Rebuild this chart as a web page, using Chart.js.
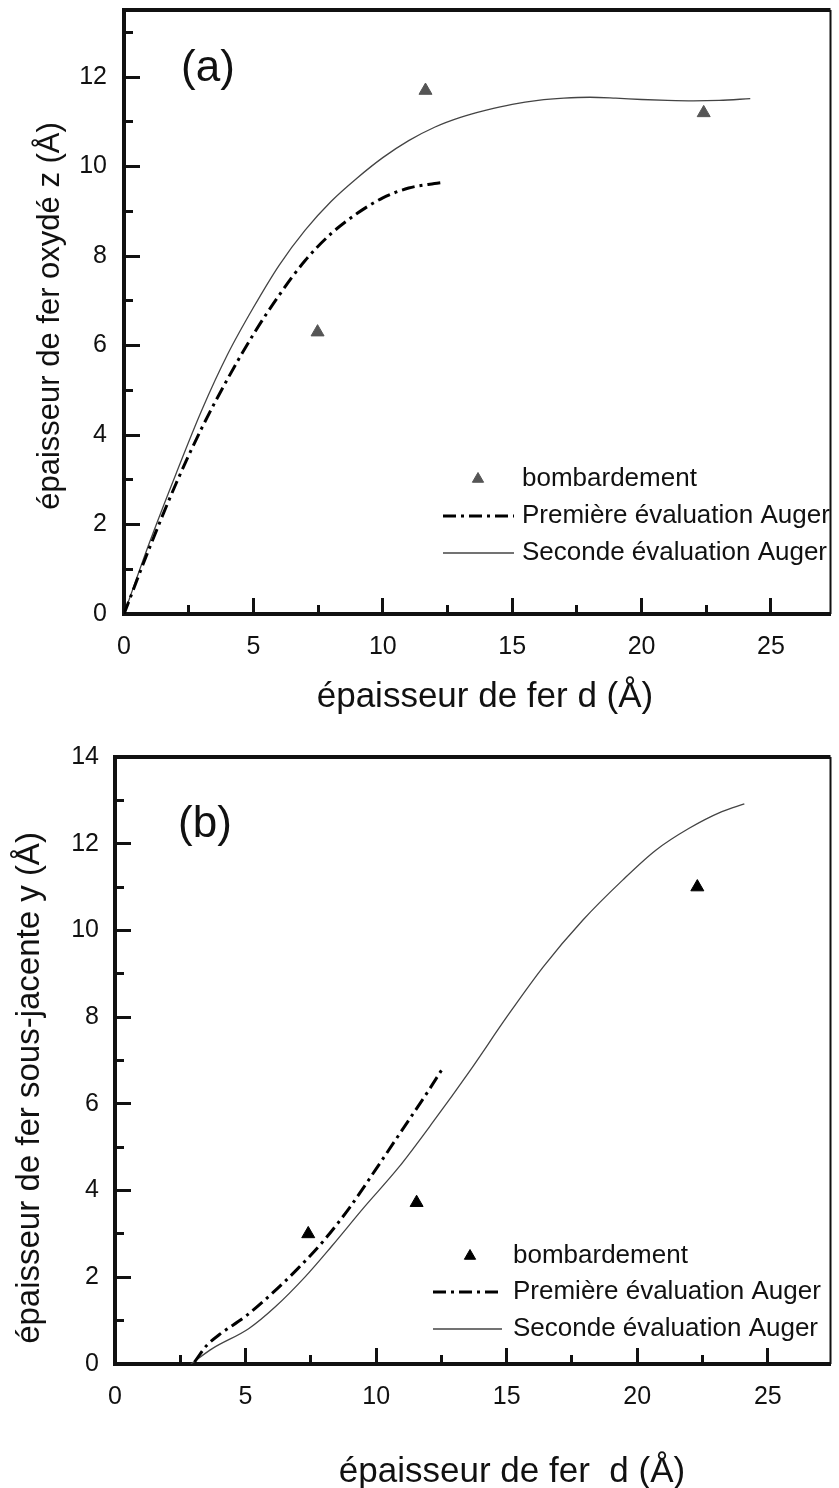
<!DOCTYPE html>
<html>
<head>
<meta charset="utf-8">
<script src="https://cdn.jsdelivr.net/npm/chart.js@4.4.1/dist/chart.umd.min.js"></script>
<style>
  html, body { margin: 0; padding: 0; background: #fff; }
  canvas { position: absolute; left: 0; }
  #chartA { top: 0; }
  #chartB { top: 720px; }
</style>
</head>
<body>
<canvas id="chartA" width="839" height="720"></canvas>
<canvas id="chartB" width="839" height="768"></canvas>
<script>
// ---- data ----
// (a) épaisseur de fer oxydé z vs d
const dA_bomb = [7.48, 11.65, 22.4];
const zA_bomb = [6.3, 11.7, 11.2];
const dA_prem = [0, 1, 2, 3, 4, 5, 6, 7, 8, 9, 10, 11, 12, 12.4];
const zA_prem = [0, 1.5, 2.9, 4.15, 5.25, 6.25, 7.13, 7.9, 8.5, 8.95, 9.3, 9.52, 9.62, 9.65];
const dA_sec = [0, 1, 2, 3, 4, 5, 6, 7, 8, 9, 10, 11, 12, 13, 14, 15, 16, 17, 18, 19, 20, 21, 22, 23, 24.2];
const zA_sec = [0, 1.62, 3.12, 4.55, 5.8, 6.85, 7.8, 8.58, 9.22, 9.74, 10.2, 10.58, 10.88, 11.1, 11.26, 11.39, 11.48, 11.53, 11.55, 11.53, 11.5, 11.48, 11.47, 11.48, 11.52];

// (b) épaisseur de fer sous-jacente y vs d
const dB_bomb = [7.4, 11.55, 22.3];
const yB_bomb = [3.0, 3.72, 11.0];
const dB_prem = [3.05, 3.5, 4, 5, 6, 7, 8, 9, 10, 11, 12, 12.55];
const yB_prem = [0.05, 0.42, 0.68, 1.1, 1.62, 2.2, 2.85, 3.62, 4.5, 5.4, 6.3, 6.82];
const dB_sec = [2.9, 3.74, 5.13, 6.14, 7.28, 8.29, 9.56, 10.83, 12.2, 13.61, 15.01, 16.4, 17.92, 19.44, 20.71, 21.97, 23.24, 24.1];
const yB_sec = [0, 0.36, 0.82, 1.32, 2.01, 2.71, 3.63, 4.51, 5.6, 6.78, 8.01, 9.16, 10.24, 11.16, 11.85, 12.35, 12.74, 12.92];

// ticks
const xMajor = [0, 5, 10, 15, 20, 25];
const xMinor = [2.5, 7.5, 12.5, 17.5, 22.5];
const yMajorA = [0, 2, 4, 6, 8, 10, 12];
const yMinorA = [1, 3, 5, 7, 9, 11, 13];
const yMajorB = [0, 2, 4, 6, 8, 10, 12, 14];
const yMinorB = [1, 3, 5, 7, 9, 11, 13];

const legendLabels = ['bombardement', 'Première évaluation Auger', 'Seconde évaluation Auger'];

const FONT = '"Liberation Sans", Arial, Helvetica, sans-serif';
const INK = '#111';

function pts(xs, ys) { return xs.map((x, i) => ({ x: x, y: ys[i] })); }

function setTicks(vals) {
  return s => { s.ticks = vals.map(v => ({ value: v })); };
}

// fixed box sizes so the plot area lands where the figure has it
function fixX(h) {
  return s => { s.height = h; s.paddingLeft = 0; s.paddingRight = 0; };
}
function fixY(w) {
  return s => { s.width = w; s.paddingTop = 0; s.paddingBottom = 0; };
}

function buildScales(c) {
  const gridMajor = { drawOnChartArea: false, tickLength: -16, tickWidth: 3, tickColor: INK };
  const gridMinor = { drawOnChartArea: false, tickLength: -9, tickWidth: 3, tickColor: INK };
  const tickFont = { family: FONT, size: 25 };
  return {
    xm: {
      type: 'linear', axis: 'x', position: 'bottom', weight: 0, min: 0, max: c.xMax,
      afterBuildTicks: setTicks(xMinor), afterFit: fixX(0),
      ticks: { display: false }, border: { display: false }, grid: gridMinor
    },
    x: {
      type: 'linear', position: 'bottom', weight: 1, min: 0, max: c.xMax,
      afterBuildTicks: setTicks(xMajor), afterFit: fixX(c.xHeight),
      ticks: { color: INK, font: tickFont, padding: c.xPad, autoSkip: false, maxRotation: 0 },
      border: { display: true, width: 4, color: INK }, grid: gridMajor
    },
    ym: {
      type: 'linear', axis: 'y', position: 'left', weight: 0, min: 0, max: c.yMax,
      afterBuildTicks: setTicks(c.yMinor), afterFit: fixY(0),
      ticks: { display: false }, border: { display: false }, grid: gridMinor
    },
    y: {
      type: 'linear', position: 'left', weight: 1, min: 0, max: c.yMax,
      afterBuildTicks: setTicks(c.yMajor), afterFit: fixY(c.yWidth),
      ticks: { color: INK, font: tickFont, padding: c.yPad, autoSkip: false },
      border: { display: true, width: 4, color: INK }, grid: gridMajor
    }
  };
}

// frame, panel letter, axis titles and the inset legend
const annotPlugin = {
  id: 'annot',
  afterDraw(chart, args, o) {
    const { ctx, chartArea: a } = chart;
    ctx.save();
    ctx.strokeStyle = INK;
    ctx.lineWidth = 4;
    ctx.beginPath(); ctx.moveTo(a.left - 2, a.top); ctx.lineTo(a.right, a.top); ctx.stroke();
    ctx.lineWidth = 2;
    ctx.beginPath(); ctx.moveTo(a.right, a.top); ctx.lineTo(a.right, a.bottom); ctx.stroke();

    ctx.fillStyle = INK;
    ctx.textBaseline = 'middle';
    ctx.textAlign = 'center';
    ctx.font = o.panel.size + 'px ' + FONT;
    ctx.fillText(o.panel.text, o.panel.x, o.panel.y);

    ctx.font = o.xTitle.size + 'px ' + FONT;
    ctx.fillText(o.xTitle.text, o.xTitle.x, o.xTitle.y);

    ctx.save();
    ctx.translate(o.yTitle.x, o.yTitle.y);
    ctx.rotate(-Math.PI / 2);
    ctx.font = o.yTitle.size + 'px ' + FONT;
    ctx.fillText(o.yTitle.text, 0, 0);
    ctx.restore();

    const L = o.legend;
    ctx.font = L.size + 'px ' + FONT;
    ctx.textAlign = 'left';
    chart.data.datasets.forEach((ds, i) => {
      const y = L.rows[i];
      if (ds.showLine === false) {
        ctx.fillStyle = ds.backgroundColor;
        ctx.strokeStyle = ds.borderColor;
        ctx.lineWidth = 1;
        Chart.helpers.drawPoint(ctx, { pointStyle: 'triangle', radius: ds.pointRadius - 1, rotation: 0, borderWidth: 1 }, L.mark, y);
      } else {
        ctx.strokeStyle = ds.borderColor;
        ctx.lineWidth = ds.borderWidth;
        ctx.setLineDash(ds.borderDash || []);
        ctx.beginPath(); ctx.moveTo(L.x0, y); ctx.lineTo(L.x1, y); ctx.stroke();
        ctx.setLineDash([]);
      }
      ctx.fillStyle = INK;
      ctx.fillText(ds.label, L.text, y);
    });
    ctx.restore();
  }
};

function makeChart(id, c) {
  return new Chart(document.getElementById(id), {
    type: 'scatter',
    data: {
      datasets: [
        { label: legendLabels[0], data: c.bomb, showLine: false, pointStyle: 'triangle',
          pointRadius: 7.5, backgroundColor: c.markColor, borderColor: c.markColor, borderWidth: 1,
          xAxisID: 'x', yAxisID: 'y' },
        { label: legendLabels[1], data: c.prem, showLine: true, pointRadius: 0,
          borderColor: '#000', borderWidth: 3, borderDash: [13, 5, 3, 5],
          cubicInterpolationMode: 'monotone', xAxisID: 'x', yAxisID: 'y' },
        { label: legendLabels[2], data: c.sec, showLine: true, pointRadius: 0,
          borderColor: '#444', borderWidth: 1.3,
          cubicInterpolationMode: 'monotone', xAxisID: 'x', yAxisID: 'y' }
      ]
    },
    options: {
      responsive: false,
      animation: false,
      devicePixelRatio: 1,
      layout: { padding: { top: c.top, right: 2, left: 0, bottom: 0 } },
      scales: buildScales(c),
      plugins: {
        legend: { display: false },
        tooltip: { enabled: false },
        annot: c.annot
      }
    },
    plugins: [annotPlugin]
  });
}

makeChart('chartA', {
  bomb: pts(dA_bomb, zA_bomb), prem: pts(dA_prem, zA_prem), sec: pts(dA_sec, zA_sec),
  markColor: '#555', xMax: 27.3, yMax: 13.5, yMajor: yMajorA, yMinor: yMinorA,
  top: 10, xHeight: 106, yWidth: 124, xPad: 34, yPad: 33,
  annot: {
    panel: { text: '(a)', x: 208, y: 69, size: 44 },
    xTitle: { text: 'épaisseur de fer d (Å)', x: 485, y: 697, size: 35 },
    yTitle: { text: 'épaisseur de fer oxydé z (Å)', x: 50, y: 316, size: 31 },
    legend: { x0: 443, x1: 514, mark: 478, text: 522, rows: [479, 516, 553], size: 26 }
  }
});

makeChart('chartB', {
  bomb: pts(dB_bomb, yB_bomb), prem: pts(dB_prem, yB_prem), sec: pts(dB_sec, yB_sec),
  markColor: '#000', xMax: 27.4, yMax: 14, yMajor: yMajorB, yMinor: yMinorB,
  top: 37, xHeight: 124, yWidth: 115, xPad: 34, yPad: 32,
  annot: {
    panel: { text: '(b)', x: 205, y: 105, size: 44 },
    xTitle: { text: 'épaisseur de fer  d (Å)', x: 512, y: 752, size: 35 },
    yTitle: { text: 'épaisseur de fer sous-jacente y (Å)', x: 30, y: 368, size: 33 },
    legend: { x0: 433, x1: 502, mark: 470, text: 513, rows: [536, 572, 609], size: 26 }
  }
});
</script>
</body>
</html>
